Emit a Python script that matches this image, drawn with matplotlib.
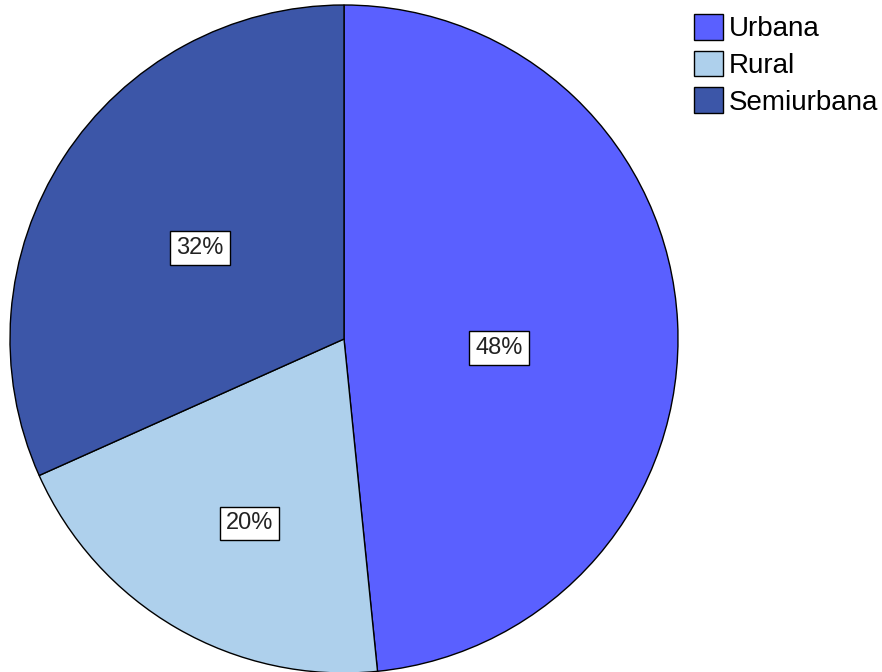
import matplotlib
matplotlib.use("Agg")
import matplotlib.pyplot as plt
import numpy as np

# Data
categories = ["Urbana", "Rural", "Semiurbana"]
shares = [48.4, 19.9, 31.7]
colors = ["#5A60FF", "#AED0EC", "#3C56A8"]
# where SPSS put each % box: radius fraction and angle shift from wedge middle
label_radius = [0.465, 0.62, 0.51]
label_shift = [-6.2, 3.0, 0.6]

plt.rcParams['font.family'] = ['Liberation Sans', 'DejaVu Sans']

fig = plt.figure(figsize=(8.82, 6.72), dpi=100)
ax = fig.add_axes([10 / 882, -1 / 672, 668 / 882, 668 / 672])

wedges, _ = ax.pie(shares, colors=colors, startangle=90, counterclock=False,
                   wedgeprops=dict(edgecolor='black', linewidth=1.0))
ax.set_xlim(-1, 1)
ax.set_ylim(-1, 1)
ax.set_aspect('equal')
ax.axis('off')

# percentage boxes
for w, s, r, d in zip(wedges, shares, label_radius, label_shift):
    ang = np.deg2rad((w.theta1 + w.theta2) / 2 + d)
    ax.text(r * np.cos(ang), r * np.sin(ang), '%.0f%%' % s,
            ha='center', va='center', fontsize=17, color='#222222',
            bbox=dict(boxstyle='square,pad=0.25', fc='white', ec='black', lw=1))

fig.legend(wedges, categories, loc='upper left',
           bbox_to_anchor=(694 / 882, 1 - 14 / 672), frameon=False,
           fontsize=20, handlelength=1.05, handleheight=1.05,
           handletextpad=0.2, labelspacing=0.3, borderpad=0, borderaxespad=0)

fig.savefig("out.png", dpi=100)
